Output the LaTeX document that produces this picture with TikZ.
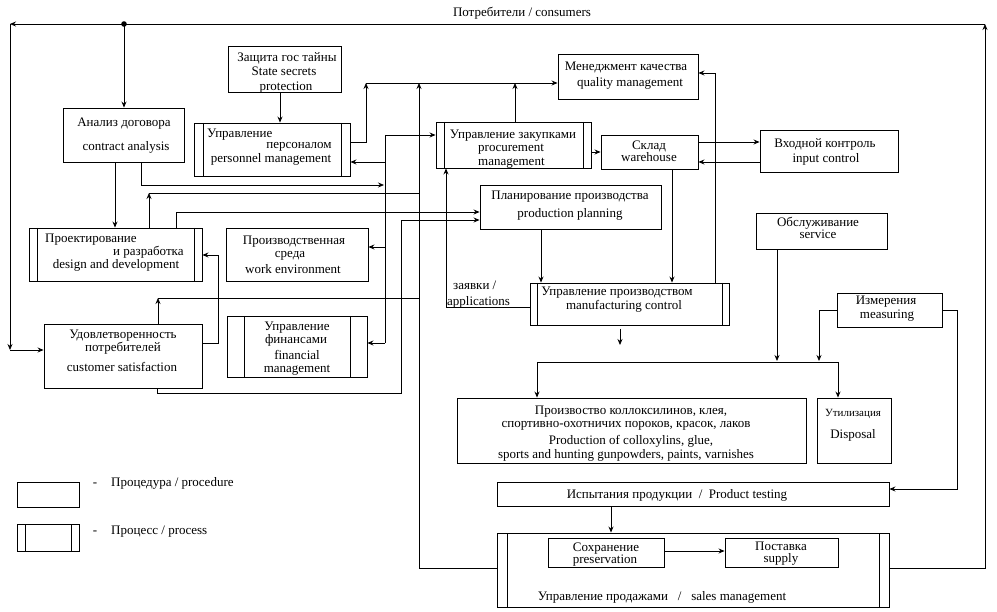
\documentclass[tikz,border=0pt]{standalone}
\usepackage{fontspec}
\setmainfont{Liberation Serif}
\usetikzlibrary{arrows.meta,fit}
\begin{document}
\begin{tikzpicture}[x=1pt,y=-1pt,
  box/.style={draw, line width=0.9pt, inner sep=0pt},
  procbox/.style={box, path picture={
    \draw[line width=0.9pt] ([xshift=#1]path picture bounding box.north west) -- ([xshift=#1]path picture bounding box.south west);
    \draw[line width=0.9pt] ([xshift=-#1]path picture bounding box.north east) -- ([xshift=-#1]path picture bounding box.south east);}},
  procbox/.default=8pt,
  ln/.style={line width=0.8pt},
  arr/.style={-{Stealth[length=6pt,width=5pt]}},
  txt/.style={inner sep=0pt, anchor=mid, yshift=-2.5pt, font=\fontsize{13}{14}\selectfont},
  txtw/.style={txt, anchor=mid west},
  small/.style={txt, font=\fontsize{11}{12}\selectfont}]
\fill[white] (0,0) rectangle (997,612);
\useasboundingbox (0,0) rectangle (997,612);

% boxes
\node[box, fit={(228,46)(341,92)}] (sec) {};
\node[box, fit={(63,108)(184,162)}] (con) {};
\node[procbox=9pt, fit={(194,123)(350,176)}] (per) {};
\node[box, fit={(558,54)(698,99)}] (qua) {};
\node[procbox, fit={(436,122)(591,168)}] (pro) {};
\node[box, fit={(601,135)(698,169)}] (war) {};
\node[box, fit={(760,130)(898,172)}] (inp) {};
\node[box, fit={(480,185)(661,229)}] (pla) {};
\node[procbox, fit={(29,228)(202,281)}] (des) {};
\node[box, fit={(226,228)(368,281)}] (env) {};
\node[box, fit={(44,324)(202,388)}] (cus) {};
\node[procbox=17pt, fit={(227,316)(367,377)}] (fin) {};
\node[procbox=7pt, fit={(530,283)(729,325)}] (man) {};
\node[box, fit={(756,213)(887,249)}] (ser) {};
\node[box, fit={(837,293)(942,327)}] (mea) {};
\node[box, fit={(457,398)(806,463)}] (prd) {};
\node[box, fit={(817,398)(891,463)}] (dis) {};
\node[box, fit={(497,482)(889,506)}] (tst) {};
\node[procbox=10pt, fit={(497,533)(889,607)}] (sal) {};
\node[box, fit={(548,538)(664,567)}] (prs) {};
\node[box, fit={(725,538)(838,567)}] (sup) {};
\node[box, fit={(17,482)(79,507)}] (lg1) {};
\node[procbox=8pt, fit={(17,524)(79,551)}] (lg2) {};

% texts
\node[txt] (t0) at (522,12) {Потребители / consumers};
\node[txt] at (287,57) {Защита гос тайны};
\node[txt] at (284,71) {State secrets};
\node[txt] at (286,86) {protection};
\node[txt] at (124,122) {Анализ договора};
\node[txt] at (126,146) {contract analysis};
\node[txtw] at (207,133) {Управление};
\node[txt] at (299,144) {персоналом};
\node[txt] at (271,158) {personnel management};
\node[txt] at (626,66) {Менеджмент качества};
\node[txt] at (630,82) {quality management};
\node[txt] at (513,134) {Управление закупками};
\node[txtw] at (478,147) {procurement};
\node[txtw] at (478,161) {management};
\node[txt] at (649,145) {Склад};
\node[txt] at (649,157) {warehouse};
\node[txt] at (825,143) {Входной контроль};
\node[txt] at (826,158) {input control};
\node[txt] at (570,195) {Планирование производства};
\node[txt] at (570,213) {production planning};
\node[txtw] at (45,238) {Проектирование};
\node[txtw] at (113,251) {и разработка};
\node[txt] at (116,264) {design and development};
\node[txt] at (294,240) {Производственная};
\node[txt] at (290,253) {среда};
\node[txt] at (293,269) {work environment};
\node[txt] at (123,334) {Удовлетворенность};
\node[txt] at (123,347) {потребителей};
\node[txt] at (122,367) {customer satisfaction};
\node[txt] at (297,326) {Управление};
\node[txt] at (296,339) {финансами};
\node[txt] at (297,355) {financial};
\node[txt] at (297,368) {management};
\node[txt] at (617,291) {Управление производством};
\node[txt] at (624,305) {manufacturing control};
\node[txtw] at (453,285) {заявки /};
\node[txtw] at (447,301) {applications};
\node[txt] at (818,222) {Обслуживание};
\node[txt] at (818,234) {service};
\node[txt] at (886,300) {Измерения};
\node[txt] at (887,314) {measuring};
\node[txt] at (631,410) {Произвоство коллоксилинов, клея,};
\node[txt] at (626,423) {спортивно-охотничих пороков, красок, лаков};
\node[txt] at (631,440) {Production of colloxylins, glue,};
\node[txt] at (626,454) {sports and hunting gunpowders, paints, varnishes};
\node[small] at (853,412) {Утилизация};
\node[txt] at (853,434) {Disposal};
\node[txt] at (677,494) {Испытания продукции \ / \ Product testing};
\node[txt] at (606,547) {Сохранение};
\node[txt] at (605,559) {preservation};
\node[txt] at (781,546) {Поставка};
\node[txt] at (781,558) {supply};
\node[txt] at (662,596) {Управление продажами \ \ / \ \ sales management};
\node[txt] at (95,482) {-};
\node[txtw] at (111,482) {Процедура / procedure};
\node[txt] at (95,530) {-};
\node[txtw] at (111,530) {Процесс / process};

% connectors
\coordinate (tr) at (985,24);
\coordinate (tl) at (10,24);
\coordinate (bl) at (10,350);
\coordinate (dot) at (124,24);
\draw[ln,arr] (sal.east |- 0,568) -- (985,568) -- (tr);
\draw[ln,arr] (tr) -- (tl);
\draw[ln,arr] (tl) -- (bl);
\draw[ln,arr] (bl) -- (cus.west |- bl);
\fill (dot) circle (2.8);
\draw[ln,arr] (dot) -- (con.north -| dot);

\draw[ln,arr] (sec.south -| 280,0) -- (per.north -| 280,0);
\draw[ln,arr] (per.east |- 0,142) -- (366,142) -- (366,83);
\draw[ln,arr] (366,83) -- (qua.west |- 0,83);
\draw[ln,arr] (pro.north -| 515,0) -- (515,83);
\draw[ln,arr] (sal.west |- 0,568) -- (419,568) -- (419,83);
\draw[ln,arr] (des.north -| 149,0) -- (149,193);
\draw[ln] (149,193) -- (419,193);
\draw[ln,arr] (cus.north -| 158,0) -- (158,298);
\draw[ln] (158,298) -- (419,298);
\draw[ln,arr] (con.south -| 115,0) -- (des.north -| 115,0);
\draw[ln,arr] (con.south -| 141,0) -- (141,185) -- (384,185);
\draw[ln] (385,135) -- (385,343);
\draw[ln,arr] (385,135) -- (pro.west |- 0,135);
\draw[ln,arr] (385,162) -- (per.east |- 0,162);
\draw[ln,arr] (385,247) -- (env.east |- 0,247);
\draw[ln,arr] (385,343) -- (fin.east |- 0,343);
\draw[ln,arr] (des.north -| 176,0) -- (176,212) -- (pla.west |- 0,212);
\draw[ln,arr] (cus.south -| 157,0) -- (157,393) -- (401,393) -- (401,220) -- (pla.west |- 0,220);
\draw[ln,arr] (cus.east |- 0,343) -- (218,343) -- (218,255) -- (des.east |- 0,255);
\draw[ln,arr] (man.west |- 0,307) -- (446,307) -- (pro.south -| 446,0);
\draw[ln,arr] (pro.east |- 0,152) -- (war.west |- 0,152);
\draw[ln,arr] (war.east |- 0,142) -- (inp.west |- 0,142);
\draw[ln,arr] (inp.west |- 0,162) -- (war.east |- 0,162);
\draw[ln,arr] (man.north -| 715,0) -- (715,73) -- (qua.east |- 0,73);
\draw[ln,arr] (war.south -| 672,0) -- (man.north -| 672,0);
\draw[ln,arr] (pla.south -| 541,0) -- (man.north -| 541,0);
\coordinate (ms1) at (620,329);
\coordinate (ms2) at (620,345);
\draw[ln,arr] (ms1) -- (ms2);
\draw[ln] (537,362) -- (838,362);
\draw[ln,arr] (537,362) -- (prd.north -| 537,0);
\draw[ln,arr] (838,362) -- (dis.north -| 838,0);
\draw[ln,arr] (ser.south -| 777,0) -- (777,361);
\draw[ln,arr] (mea.west |- 0,310) -- (819,310) -- (819,361);
\draw[ln,arr] (mea.east |- 0,310) -- (957,310) -- (957,489) -- (tst.east |- 0,489);
\draw[ln,arr] (tst.south -| 611,0) -- (sal.north -| 611,0);
\draw[ln,arr] (prs.east |- 0,551) -- (sup.west |- 0,551);
\end{tikzpicture}
\end{document}
